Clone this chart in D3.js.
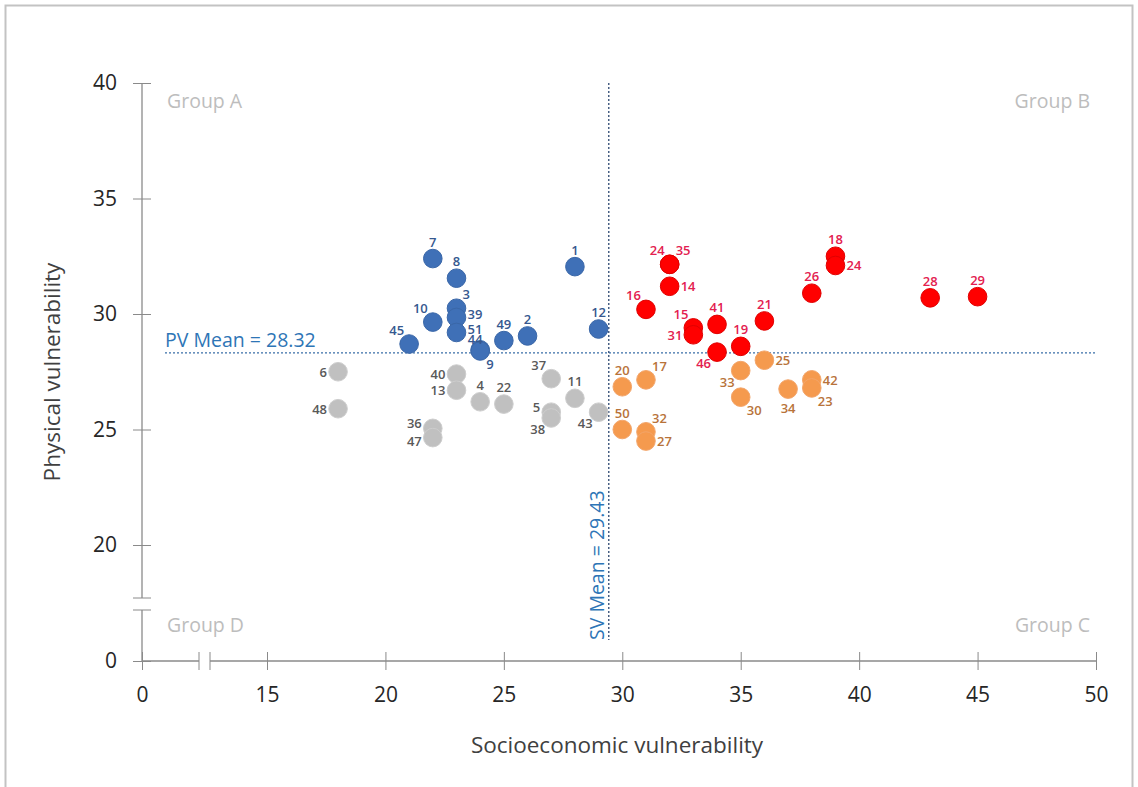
<!DOCTYPE html>
<html>
<head>
<meta charset="utf-8">
<script src="https://cdn.jsdelivr.net/npm/d3@7"></script>
<style>
  body { margin: 0; background: #fff; }
  svg { display: block; font-family: 'Open Sans', sans-serif; }
</style>
</head>
<body>
<div id="chart"></div>
<script>
'use strict';

// point ids, socioeconomic (x) and physical (y) vulnerability, quadrant group
var pointIds = [ '7', '8', '1', '3', '39', '51', '10', '45', '44', '9', '49', '2', '12',
                 '6', '48', '36', '47', '40', '13', '4', '22', '37', '11', '5', '38', '43',
                 '24', '35', '14', '16', '15', '31', '41', '46', '19', '21', '26', '18', '24', '28', '29',
                 '20', '17', '50', '32', '27', '25', '33', '30', '34', '42', '23' ];
var svValues = [ 22, 23, 28, 23, 23, 23, 22, 21, 24, 24, 25, 26, 29,
                 18, 18, 22, 22, 23, 23, 24, 25, 27, 28, 27, 27, 29,
                 32, 32, 32, 31, 33, 33, 34, 34, 35, 36, 38, 39, 39, 43, 45,
                 30, 31, 30, 31, 31, 36, 35, 35, 37, 38, 38 ];
var pvValues = [ 32.4, 31.55, 32.05, 30.25, 29.85, 29.2, 29.65, 28.7, 28.45, 28.4, 28.85, 29.05, 29.35,
                 27.5, 25.9, 25.05, 24.65, 27.4, 26.7, 26.2, 26.1, 27.2, 26.35, 25.75, 25.5, 25.75,
                 32.15, 32.15, 31.2, 30.2, 29.4, 29.1, 29.55, 28.35, 28.6, 29.7, 30.9, 32.5, 32.1, 30.7, 30.75,
                 26.85, 27.15, 25.0, 24.9, 24.5, 28.0, 27.55, 26.4, 26.75, 27.15, 26.8 ];
var groups = [ 'A', 'A', 'A', 'A', 'A', 'A', 'A', 'A', 'A', 'A', 'A', 'A', 'A',
               'D', 'D', 'D', 'D', 'D', 'D', 'D', 'D', 'D', 'D', 'D', 'D', 'D',
               'B', 'B', 'B', 'B', 'B', 'B', 'B', 'B', 'B', 'B', 'B', 'B', 'B', 'B', 'B',
               'C', 'C', 'C', 'C', 'C', 'C', 'C', 'C', 'C', 'C', 'C' ];
// which side of its dot each id label sits on
var labelSide = [ 'n', 'n', 'n', 'ne', 'en', 'en', 'nw', 'nw', 'nl', 'se', 'n', 'n', 'n',
                  'w', 'w', 'wn', 'ws', 'w', 'w', 'n', 'n', 'nw', 'n', 'wn', 'sw', 'sw',
                  'nw', 'ne', 'e', 'nw', 'nw', 'w', 'n', 'sw', 'n', 'n', 'n', 'n', 'e', 'n', 'n',
                  'n', 'ne', 'n', 'ne', 'e', 'e', 'sw', 'se', 's', 'e', 'se' ];

var xTicks = [ 0, 15, 20, 25, 30, 35, 40, 45, 50 ];
var yTicks = [ 0, 20, 25, 30, 35, 40 ];
var svMean = 29.43,
    pvMean = 28.32;

var groupNames = [ 'Group A', 'Group B', 'Group C', 'Group D' ];

var dotFill = { A: '#3f70b7', B: '#ff0000', C: '#f59a4e', D: '#c0c0c0' },
    dotStroke = { A: '#3a67a8', B: '#e00000', C: '#f3a56a', D: '#cdcdcd' },
    labelFill = { A: '#36588f', B: '#e3204f', C: '#b8733a', D: '#595959' };

var sideOffset = {
  n:  [ 0, -12, 'middle' ],
  nl: [ -5, -6, 'middle' ],
  s:  [ 0, 24, 'middle' ],
  e:  [ 11, 5, 'start' ],
  en: [ 11, 2, 'start' ],
  w:  [ -11, 5, 'end' ],
  wn: [ -11, 0, 'end' ],
  ws: [ -11, 8, 'end' ],
  nw: [ -5, -9, 'end' ],
  ne: [ 6, -9, 'start' ],
  sw: [ -6, 16, 'end' ],
  se: [ 6, 18, 'start' ]
};

var width = 1138,
    height = 787;

// broken axes: 0 then jump to 15 (x) / 20 (y)
var x = d3.scaleLinear().domain( [ 0, 15, 50 ] ).range( [ 142, 267, 1096 ] ),
    y = d3.scaleLinear().domain( [ 0, 20, 40 ] ).range( [ 661, 545, 83 ] );

var svg = d3.select( '#chart' )
  .append( 'svg' )
    .attr( 'width', width )
    .attr( 'height', height );

svg.append( 'rect' )
  .attr( 'x', 5.5 )
  .attr( 'y', 5.5 )
  .attr( 'width', 1127 )
  .attr( 'height', 790 )
  .style( 'fill', 'none' )
  .style( 'stroke', '#c3c3c3' )
  .style( 'stroke-width', 2 );

var axisColor = '#8a8a8a';

// x axis
var xAxis = svg.append( 'g' )
  .attr( 'transform', 'translate(0,' + y( 0 ) + ')' )
  .call( d3.axisBottom( x ).tickValues( xTicks ).tickSize( 9 ).tickPadding( 17 ) );
xAxis.select( '.domain' ).remove();
xAxis.selectAll( '.tick line' ).attr( 'y1', -9 ).attr( 'y2', 9 ).style( 'stroke', axisColor );
xAxis.selectAll( '.tick text' )
  .style( 'font-size', '21px' )
  .style( 'font-family', "'Open Sans', sans-serif" )
  .style( 'fill', '#262626' );

// y axis
var yAxis = svg.append( 'g' )
  .attr( 'transform', 'translate(' + x( 0 ) + ',0)' )
  .call( d3.axisLeft( y ).tickValues( yTicks ).tickSize( 9 ).tickPadding( 16 ) );
yAxis.select( '.domain' ).remove();
yAxis.selectAll( '.tick line' ).attr( 'x1', -9 ).attr( 'x2', 9 ).style( 'stroke', axisColor );
yAxis.selectAll( '.tick text' )
  .style( 'font-size', '21px' )
  .style( 'font-family', "'Open Sans', sans-serif" )
  .style( 'fill', '#262626' );

// axis lines with breaks
var xBreak = [ 199, 210 ],
    yBreak = [ 598, 610 ];
var axisLines = [
  [ x( 0 ), y( 0 ), xBreak[ 0 ], y( 0 ) ],
  [ xBreak[ 1 ], y( 0 ), x( 50 ), y( 0 ) ],
  [ x( 0 ), y( 40 ), x( 0 ), yBreak[ 0 ] ],
  [ x( 0 ), yBreak[ 1 ], x( 0 ), y( 0 ) ]
];
svg.selectAll( 'line.axisline' )
  .data( axisLines )
  .enter()
  .append( 'line' )
    .attr( 'class', 'axisline' )
    .attr( 'x1', function( d ) { return d[ 0 ]; } )
    .attr( 'y1', function( d ) { return d[ 1 ]; } )
    .attr( 'x2', function( d ) { return d[ 2 ]; } )
    .attr( 'y2', function( d ) { return d[ 3 ]; } )
    .style( 'stroke', axisColor )
    .style( 'stroke-width', 1.3 );

xBreak.forEach( function( bx ) {
  svg.append( 'line' )
    .attr( 'x1', bx ).attr( 'x2', bx )
    .attr( 'y1', y( 0 ) - 9 ).attr( 'y2', y( 0 ) + 9 )
    .style( 'stroke', axisColor );
} );
yBreak.forEach( function( by ) {
  svg.append( 'line' )
    .attr( 'x1', x( 0 ) - 9 ).attr( 'x2', x( 0 ) + 9 )
    .attr( 'y1', by ).attr( 'y2', by )
    .style( 'stroke', axisColor );
} );

// axis titles
svg.append( 'text' )
  .attr( 'x', 617 )
  .attr( 'y', 753 )
  .style( 'text-anchor', 'middle' )
  .style( 'font-size', '22.5px' )
  .style( 'fill', '#404040' )
  .text( 'Socioeconomic vulnerability' );

svg.append( 'text' )
  .attr( 'transform', 'translate(60,' + 372 + ') rotate(-90)' )
  .style( 'text-anchor', 'middle' )
  .style( 'font-size', '22.5px' )
  .style( 'fill', '#404040' )
  .text( 'Physical vulnerability' );

// quadrant names
var groupPos = [
  [ 167, 108, 'start' ],
  [ 1090, 108, 'end' ],
  [ 1090, 632, 'end' ],
  [ 167, 632, 'start' ]
];
svg.selectAll( 'text.group' )
  .data( groupNames )
  .enter()
  .append( 'text' )
    .attr( 'class', 'group' )
    .attr( 'x', function( d, i ) { return groupPos[ i ][ 0 ]; } )
    .attr( 'y', function( d, i ) { return groupPos[ i ][ 1 ]; } )
    .style( 'text-anchor', function( d, i ) { return groupPos[ i ][ 2 ]; } )
    .style( 'font-size', '19.5px' )
    .style( 'fill', '#bdbdbd' )
    .text( function( d ) { return d; } );

// mean lines
svg.append( 'line' )
  .attr( 'x1', 165 )
  .attr( 'x2', x( 50 ) )
  .attr( 'y1', y( pvMean ) )
  .attr( 'y2', y( pvMean ) )
  .style( 'stroke', '#3a6fa8' )
  .style( 'stroke-width', 1.3 )
  .style( 'stroke-dasharray', '2,2' );

svg.append( 'line' )
  .attr( 'x1', x( svMean ) )
  .attr( 'x2', x( svMean ) )
  .attr( 'y1', y( 40 ) )
  .attr( 'y2', 640 )
  .style( 'stroke', '#2c4770' )
  .style( 'stroke-width', 1.3 )
  .style( 'stroke-dasharray', '2,2' );

svg.append( 'text' )
  .attr( 'x', 165 )
  .attr( 'y', y( pvMean ) - 6 )
  .style( 'font-size', '19.5px' )
  .style( 'fill', '#2e75b6' )
  .text( 'PV Mean = ' + pvMean.toFixed( 2 ) );

svg.append( 'text' )
  .attr( 'transform', 'translate(' + ( x( svMean ) - 5 ) + ',640) rotate(-90)' )
  .style( 'font-size', '19.5px' )
  .style( 'fill', '#2e75b6' )
  .text( 'SV Mean = ' + svMean.toFixed( 2 ) );

// points
var data = pointIds.map( function( id, i ) {
  return { id: id, sv: svValues[ i ], pv: pvValues[ i ], group: groups[ i ], side: labelSide[ i ] };
} );

var points = svg.append( 'g' ).selectAll( 'g' )
  .data( data )
  .enter();

points.append( 'circle' )
  .attr( 'cx', function( d ) { return x( d.sv ); } )
  .attr( 'cy', function( d ) { return y( d.pv ); } )
  .attr( 'r', 9.3 )
  .style( 'fill', function( d ) { return dotFill[ d.group ]; } )
  .style( 'stroke', function( d ) { return dotStroke[ d.group ]; } )
  .style( 'stroke-width', 1 );

points.append( 'text' )
  .attr( 'x', function( d ) { return x( d.sv ) + sideOffset[ d.side ][ 0 ]; } )
  .attr( 'y', function( d ) { return y( d.pv ) + sideOffset[ d.side ][ 1 ]; } )
  .style( 'text-anchor', function( d ) { return sideOffset[ d.side ][ 2 ]; } )
  .style( 'font-size', '13px' )
  .style( 'font-weight', 600 )
  .style( 'fill', function( d ) { return labelFill[ d.group ]; } )
  .text( function( d ) { return d.id; } );
</script>
</body>
</html>
